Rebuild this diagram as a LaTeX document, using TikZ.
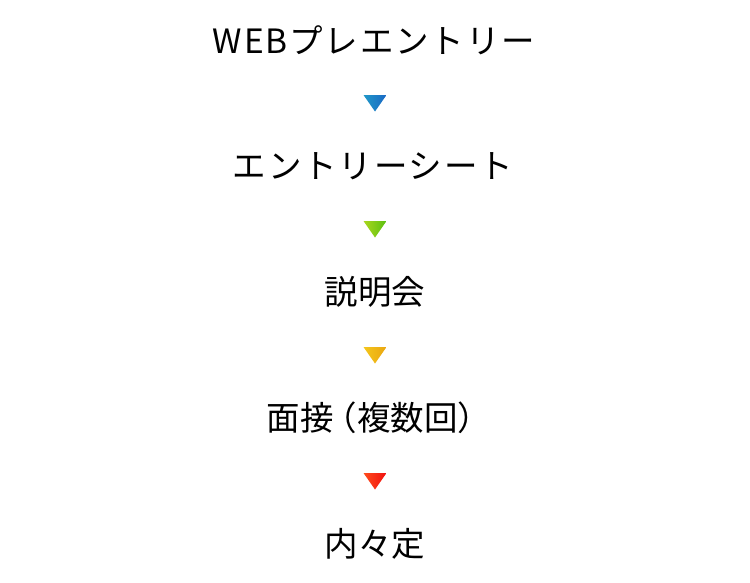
\documentclass[tikz,border=0pt]{standalone}
\usepackage{fontspec}
\usetikzlibrary{calc}
\newfontfamily\jpfont{Noto Sans CJK JP}
\newfontfamily\jpwidefont{Noto Sans CJK JP}[LetterSpace=5.5]
\definecolor{blueA}{RGB}{32,152,200}
\definecolor{blueB}{RGB}{26,104,196}
\definecolor{greenA}{RGB}{170,214,30}
\definecolor{greenB}{RGB}{90,192,16}
\definecolor{yellowA}{RGB}{244,198,28}
\definecolor{yellowB}{RGB}{234,166,16}
\definecolor{redA}{RGB}{255,76,28}
\definecolor{redB}{RGB}{240,16,16}
\begin{document}
\begin{tikzpicture}[x=1pt,y=-1pt,
  steplabel/.style={font=\jpfont\fontsize{33.5pt}{36pt}\selectfont, text=black, inner sep=0pt, anchor=center},
  widelabel/.style={steplabel, font=\jpwidefont\fontsize{33.5pt}{36pt}\selectfont},
]
\useasboundingbox (0,0) rectangle (750,582);
\fill[white] (0,0) rectangle (750,582);
\newcommand\flowtri[3]{\shade[left color=#2,right color=#3] ($(#1)+(-11.5,-8)$) -- ++(23,0) -- ++(-11.5,16.5) -- cycle;}
\node[widelabel] (s1) at (374,40) {WEBプレエントリー};
\node[widelabel] (s2) at (373,166) {エントリーシート};
\node[steplabel] (s3) at (375,292) {説明会};
\node[steplabel] (s4) at (379,418) {面接\kern-0.3em（複数回）};
\node[steplabel] (s5) at (375,544) {内々定};
\coordinate (t1) at (375,103);
\coordinate (t2) at (375,229);
\coordinate (t3) at (375,355);
\coordinate (t4) at (375,481);
\flowtri{t1}{blueA}{blueB}
\flowtri{t2}{greenA}{greenB}
\flowtri{t3}{yellowA}{yellowB}
\flowtri{t4}{redA}{redB}
\end{tikzpicture}
\end{document}
